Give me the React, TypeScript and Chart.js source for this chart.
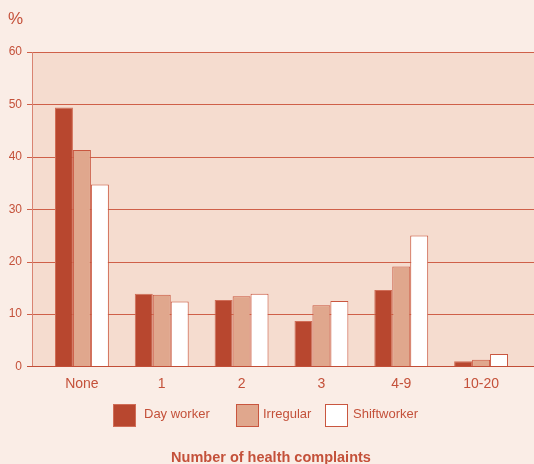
import React, { useEffect, useRef } from "react";
import { Chart, registerables } from "chart.js";

Chart.register(...registerables);

// Share of workers (%) by number of reported health complaints
const categories = ["None", "1", "2", "3", "4-9", "10-20"];
const dayWorker = [49.4, 13.9, 12.7, 8.7, 14.6, 1.0];
const irregular = [41.3, 13.7, 13.4, 11.7, 19.1, 1.3];
const shiftworker = [34.7, 12.4, 13.9, 12.5, 25.0, 2.4];
const yTicks = [0, 10, 20, 30, 40, 50, 60];
const seriesNames = ["Day worker", "Irregular", "Shiftworker"];
const axisTitle = "Number of health complaints";
const unitLabel = "%";

const PAGE_BG = "#FAEDE6";
const PLOT_BG = "#F5DCCF";
const TEXT = "#C4513A";
const GRID = "#CF6049";
const AXIS_LEFT = "#D98371";
const AXIS_BOTTOM = "#C24E37";
const FILLS = ["#B8472F", "#E0A78D", "#FFFFFF"];
const BORDERS = ["#D06D57", "#C9563F", "#C9563F"];
const FONT = "'Liberation Sans', Arial, Helvetica, sans-serif";

const PLOT_LEFT = 32;
const GRID_START = 27;

const backdrop = {
  id: "backdrop",
  beforeDraw(chart: any) {
    const { ctx, width, height } = chart;
    const y = chart.scales.y;
    const top = y.getPixelForValue(yTicks[yTicks.length - 1]);
    const bottom = y.getPixelForValue(0);
    ctx.save();
    ctx.fillStyle = PAGE_BG;
    ctx.fillRect(0, 0, width, height);
    ctx.fillStyle = PLOT_BG;
    ctx.fillRect(PLOT_LEFT, top, width - PLOT_LEFT, bottom - top);
    ctx.lineWidth = 1;
    ctx.strokeStyle = GRID;
    for (const v of yTicks) {
      if (v === 0) continue;
      const py = Math.round(y.getPixelForValue(v)) + 0.5;
      ctx.beginPath();
      ctx.moveTo(GRID_START, py);
      ctx.lineTo(width, py);
      ctx.stroke();
    }
    ctx.strokeStyle = AXIS_LEFT;
    ctx.beginPath();
    ctx.moveTo(PLOT_LEFT + 0.5, top);
    ctx.lineTo(PLOT_LEFT + 0.5, bottom);
    ctx.stroke();
    ctx.restore();
  },
  afterDatasetsDraw(chart: any) {
    const { ctx, width } = chart;
    const y = chart.scales.y;
    const py = Math.round(y.getPixelForValue(0)) - 0.5;
    ctx.save();
    ctx.strokeStyle = AXIS_BOTTOM;
    ctx.lineWidth = 1.2;
    ctx.beginPath();
    ctx.moveTo(GRID_START, py);
    ctx.lineTo(width, py);
    ctx.stroke();
    ctx.restore();
  },
};

export default function App() {
  const canvasRef = useRef<HTMLCanvasElement | null>(null);

  useEffect(() => {
    if (!canvasRef.current) return;
    const series = [dayWorker, irregular, shiftworker];
    const chart = new Chart(canvasRef.current, {
      type: "bar",
      data: {
        labels: categories,
        datasets: series.map((values, i) => ({
          label: seriesNames[i],
          data: values,
          backgroundColor: FILLS[i],
          borderColor: BORDERS[i],
          borderWidth: 1,
          barPercentage: 1,
          categoryPercentage: 0.675,
        })),
      },
      options: {
        animation: false,
        responsive: false,
        devicePixelRatio: 1,
        layout: { padding: { left: 8, right: 13, top: 52, bottom: 67.5 } },
        plugins: {
          legend: { display: false },
          tooltip: { enabled: false },
          title: { display: false },
        },
        scales: {
          x: {
            type: "category",
            offset: true,
            grid: { display: false, drawTicks: false },
            border: { display: false },
            ticks: {
              color: TEXT,
              padding: 9,
              font: { family: FONT, size: 14 },
              maxRotation: 0,
            },
            afterFit(scale: any) {
              scale.height = 30;
            },
          },
          y: {
            min: yTicks[0],
            max: yTicks[yTicks.length - 1],
            grid: { display: false, drawTicks: false },
            border: { display: false },
            ticks: {
              stepSize: 10,
              color: TEXT,
              padding: 20,
              font: { family: FONT, size: 12 },
            },
            afterFit(scale: any) {
              scale.width = 34;
            },
          },
        },
      },
      plugins: [backdrop],
    });
    return () => chart.destroy();
  }, []);

  const legendBoxLeft = [113, 236, 325];
  const legendTextLeft = [144, 263, 353];

  return (
    <div
      style={{
        position: "absolute",
        left: 0,
        top: 0,
        width: 534,
        height: 464,
        background: PAGE_BG,
        overflow: "hidden",
        fontFamily: FONT,
        color: TEXT,
      }}
    >
      <canvas ref={canvasRef} width={534} height={464} style={{ display: "block" }} />
      <span
        style={{
          position: "absolute",
          left: 8,
          top: 10,
          fontSize: 17,
          lineHeight: "17px",
          whiteSpace: "nowrap",
        }}
      >
        {unitLabel}
      </span>
      {seriesNames.map((name, i) => (
        <React.Fragment key={name}>
          <div
            style={{
              position: "absolute",
              left: legendBoxLeft[i],
              top: 404,
              width: 23,
              height: 23,
              boxSizing: "border-box",
              background: FILLS[i],
              border: `1px solid ${BORDERS[i]}`,
            }}
          />
          <span
            style={{
              position: "absolute",
              left: legendTextLeft[i],
              top: 407,
              fontSize: 13,
              lineHeight: "13px",
              whiteSpace: "nowrap",
            }}
          >
            {name}
          </span>
        </React.Fragment>
      ))}
      <span
        style={{
          position: "absolute",
          left: 271,
          top: 450,
          transform: "translateX(-50%)",
          fontSize: 14.5,
          lineHeight: "14.5px",
          fontWeight: "bold",
          whiteSpace: "nowrap",
        }}
      >
        {axisTitle}
      </span>
    </div>
  );
}
